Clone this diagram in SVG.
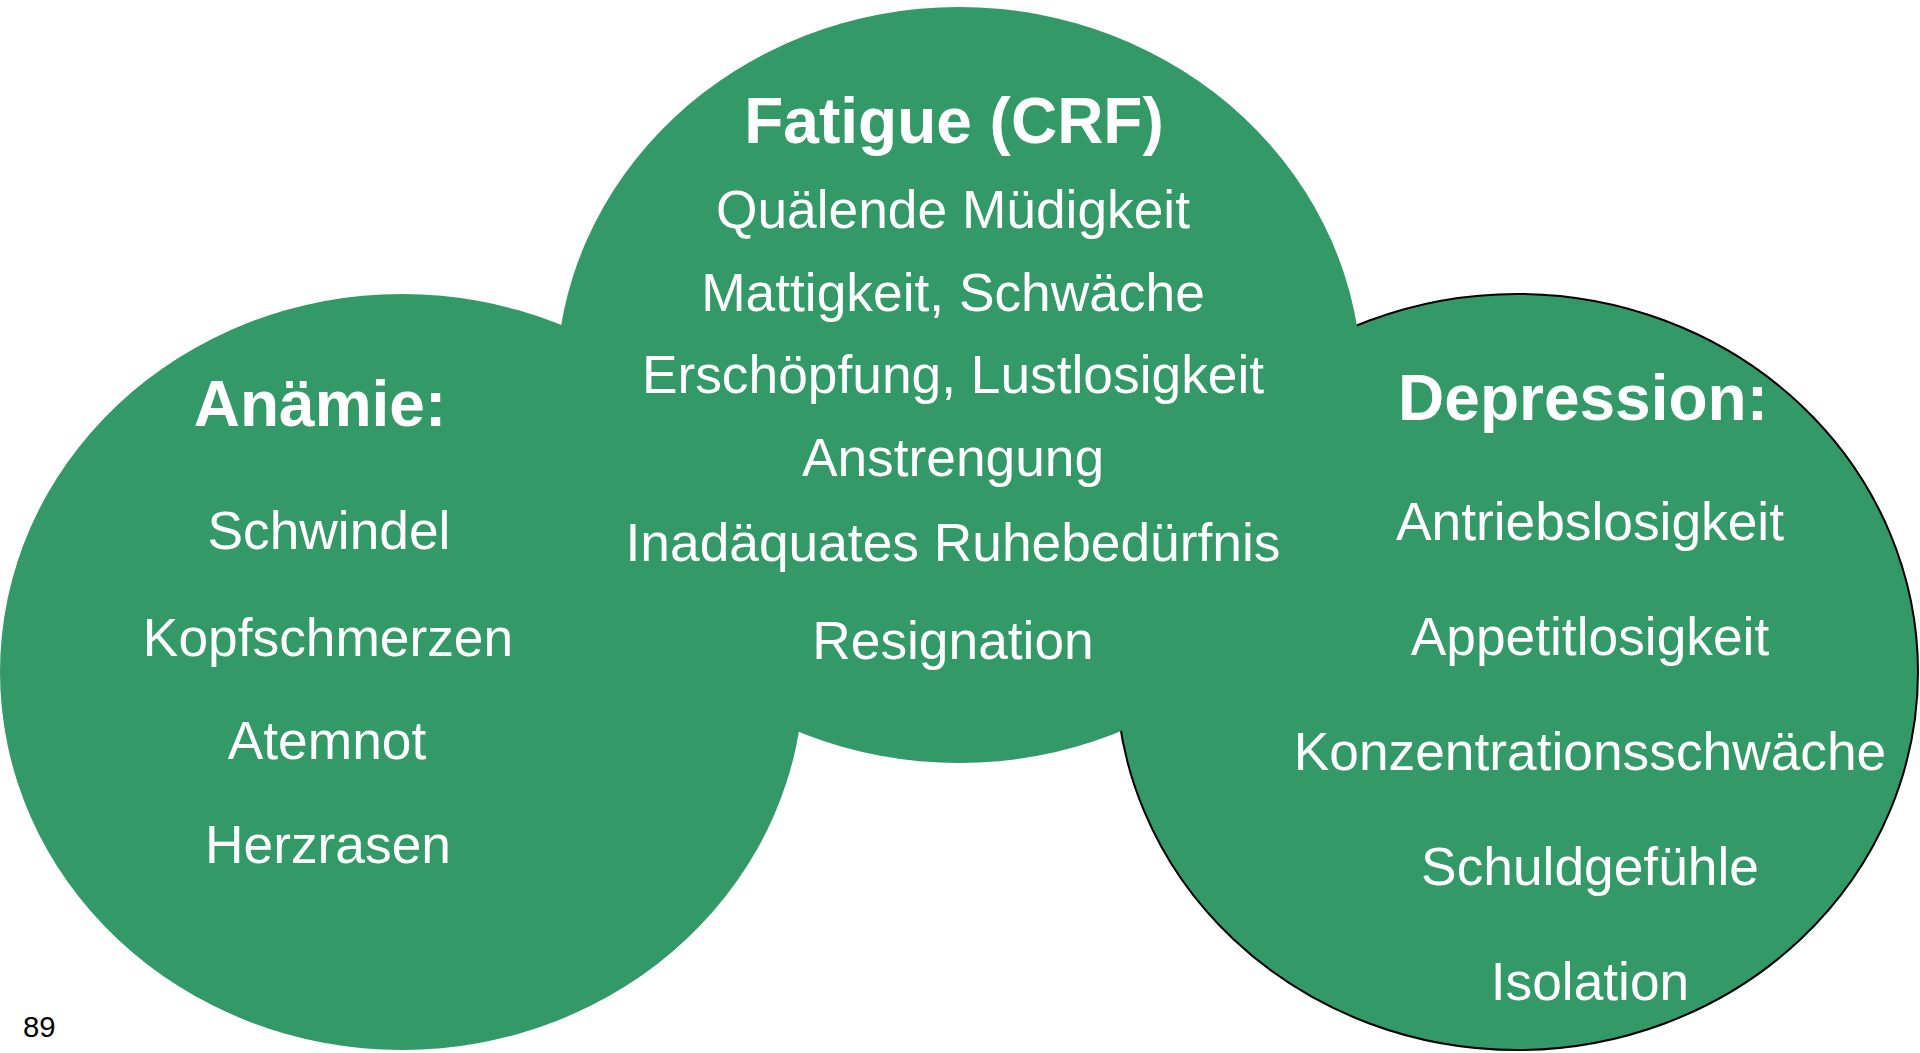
<svg xmlns="http://www.w3.org/2000/svg" width="1920" height="1053" viewBox="0 0 1920 1053">
<style>
.blob{fill:#339966}
.t{font-family:"Liberation Sans",Arial,sans-serif;fill:#fff;text-anchor:middle;font-size:53.3px}
.h{font-weight:bold;font-size:64px}
.pg{font-family:"Liberation Sans",Arial,sans-serif;fill:#000;font-size:29.3px}
</style>
<rect width="1920" height="1053" fill="#fff"/>
<g id="anaemie">
<ellipse class="blob" cx="402" cy="672" rx="402" ry="378"/>
</g>
<g id="depression">
<ellipse class="blob" cx="1517" cy="672" rx="401" ry="378" stroke="#000" stroke-width="2"/>
</g>
<g id="fatigue">
<ellipse class="blob" cx="959" cy="385" rx="403" ry="378"/>
</g>
<g id="connectors"></g>
<g id="anaemie-text">
<text class="t h" x="320" y="426">Anämie:</text>
<text class="t" x="329" y="549">Schwindel</text>
<text class="t" x="328" y="656">Kopfschmerzen</text>
<text class="t" x="327" y="759">Atemnot</text>
<text class="t" x="328" y="863">Herzrasen</text>
</g>
<g id="fatigue-text">
<text class="t h" x="954" y="143">Fatigue (CRF)</text>
<text class="t" x="953" y="228">Quälende Müdigkeit</text>
<text class="t" x="953" y="311">Mattigkeit, Schwäche</text>
<text class="t" x="953" y="393">Erschöpfung, Lustlosigkeit</text>
<text class="t" x="953" y="476">Anstrengung</text>
<text class="t" x="953" y="561">Inadäquates Ruhebedürfnis</text>
<text class="t" x="953" y="659">Resignation</text>
</g>
<g id="depression-text">
<text class="t h" x="1583" y="420">Depression:</text>
<text class="t" x="1590" y="540">Antriebslosigkeit</text>
<text class="t" x="1590" y="655">Appetitlosigkeit</text>
<text class="t" x="1590" y="770">Konzentrationsschwäche</text>
<text class="t" x="1590" y="885">Schuldgefühle</text>
<text class="t" x="1590" y="1000">Isolation</text>
</g>
<text class="pg" x="23" y="1037">89</text>
</svg>
